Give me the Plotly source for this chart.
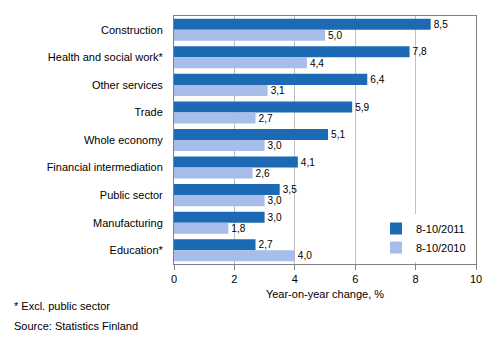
import plotly.graph_objects as go

categories = ["Construction", "Health and social work*", "Other services", "Trade",
              "Whole economy", "Financial intermediation", "Public sector",
              "Manufacturing", "Education*"]
values_2011 = [8.5, 7.8, 6.4, 5.9, 5.1, 4.1, 3.5, 3.0, 2.7]
values_2010 = [5.0, 4.4, 3.1, 2.7, 3.0, 2.6, 3.0, 1.8, 4.0]
series_names = ["8-10/2011", "8-10/2010"]
x_ticks = [0, 2, 4, 6, 8, 10]

dark = "#1b6ab3"
light = "#a7bdea"
font = "Liberation Sans, Arial, sans-serif"

def fmt(v):
    return f"{v:.1f}".replace(".", ",")

fig = go.Figure()
for name, vals, col in [(series_names[0], values_2011, dark), (series_names[1], values_2010, light)]:
    fig.add_trace(go.Bar(
        y=categories, x=vals, name=name, orientation="h",
        marker=dict(color=col, line=dict(width=0)),
        text=[fmt(v) for v in vals], textposition="outside",
        textfont=dict(size=11, color="black", family=font),
        cliponaxis=False,
    ))

L, R, T, B = 174, 20, 16, 77
W, H = 496, 341
pw = W - L - R
ph = H - T - B

fig.update_layout(
    width=W, height=H,
    margin=dict(l=L, r=R, t=T, b=B),
    paper_bgcolor="white", plot_bgcolor="white",
    barmode="group", bargap=0.2, bargroupgap=0,
    font=dict(family=font, size=11, color="black"),
    showlegend=True,
    legend=dict(x=(376 - L) / pw, y=(H - B - 214) / ph, xanchor="left", yanchor="top",
                bgcolor="white", font=dict(size=11),
                itemwidth=30, tracegroupgap=2),
    xaxis=dict(range=[0, 10], tickvals=x_ticks, ticktext=[str(t) for t in x_ticks],
               showgrid=True, gridcolor="#c0c0c0", gridwidth=1,
               showline=True, linecolor="#808080", linewidth=1, mirror=True,
               ticks="outside", ticklen=5, tickcolor="#808080",
               zeroline=False,
               title=dict(text="Year-on-year change, %", font=dict(size=11), standoff=6)),
    yaxis=dict(autorange="reversed", showline=True, linecolor="#808080", linewidth=1,
               mirror=True, ticks="", ticklabelstandoff=8,
               showgrid=False),
)

for txt, px, py in [("* Excl. public sector", 12, 306), ("Source: Statistics Finland", 12, 326)]:
    fig.add_annotation(text=txt, x=(px - L) / pw, y=(H - B - py) / ph,
                       xref="paper", yref="paper", showarrow=False,
                       xanchor="left", yanchor="middle", font=dict(size=11))

fig.write_html("out.html")
